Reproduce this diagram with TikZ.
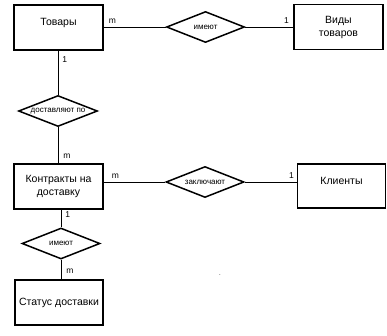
\documentclass[tikz,border=0pt]{standalone}
\usepackage{fontspec}
\setmainfont{Liberation Sans}
\usepackage{xcolor}
\usepackage{tikz}
\usetikzlibrary{positioning,shapes.geometric,calc}
\definecolor{ink}{HTML}{000000}

\begin{document}
\begin{tikzpicture}[
  x=1pt,y=-1pt,
  font=\fontsize{10.5}{13}\selectfont,
  entity/.style={draw=ink,line width=1.5pt,minimum width=89pt,minimum height=45pt,inner sep=0pt,align=center},
  relship/.style={draw=ink,line width=1.5pt,diamond,minimum width=78pt,minimum height=31pt,inner sep=0pt},
  rtext/.style={font=\fontsize{8}{9}\selectfont},
  card/.style={font=\fontsize{8.5}{9}\selectfont,inner sep=1pt},
  conn/.style={draw=ink,line width=0.9pt}
]
\useasboundingbox (0,0) rectangle (387,335);
% entities
\node[entity,label={[yshift=5pt]center:Товары}] (tov) at (58.5,27.5) {};
\node[entity] (vid) at (338.5,27) {Виды\\товаров};
\node[entity] (kontr) at (58.5,186.5) {Контракты на\\доставку};
\node[entity,minimum width=88pt,minimum height=44pt,label={[yshift=5pt]center:Клиенты}] (klient) at (341.5,186) {};
\node[entity,minimum width=88pt] (status) at (59,302.5) {Статус доставки};
% relationships
\node[relship,label={[rtext]center:имеют}] (ime1) at (205.5,27) {};
\node[relship,minimum width=79pt,label={[rtext]center:доставляют по}] (dost) at (58,111) {};
\node[relship,label={[rtext]center:заключают}] (zakl) at (205,182) {};
\node[relship,label={[rtext]center:имеют}] (ime2) at (61,243.5) {};
% connectors
\draw[conn] (tov.east |- ime1.west) -- node[card,pos=0.14,above=2pt]{m} (ime1.west);
\draw[conn] (ime1.east) -- node[card,pos=0.86,above=2pt]{1} (vid.west |- ime1.east);
\draw[conn] (tov.south -| dost.north) -- node[card,pos=0.2,right=3pt]{1} (dost.north);
\draw[conn] (dost.south) -- node[card,pos=0.8,right=4pt]{m} (kontr.north -| dost.south);
\draw[conn] (kontr.east |- zakl.west) -- node[card,pos=0.19,above=2pt]{m} (zakl.west);
\draw[conn] (zakl.east) -- node[card,pos=0.9,above=2pt]{1} (klient.west |- zakl.east);
\draw[conn] (kontr.south -| ime2.north) -- node[card,pos=0.3,right=3pt]{1} (ime2.north);
\draw[conn] (ime2.south) -- node[card,pos=0.6,right=4pt]{m} (status.north -| ime2.south);
% stray dot
\node[font=\fontsize{6}{6}\selectfont,inner sep=0pt] (dot) at (220,275) {.};
\end{tikzpicture}
\end{document}
